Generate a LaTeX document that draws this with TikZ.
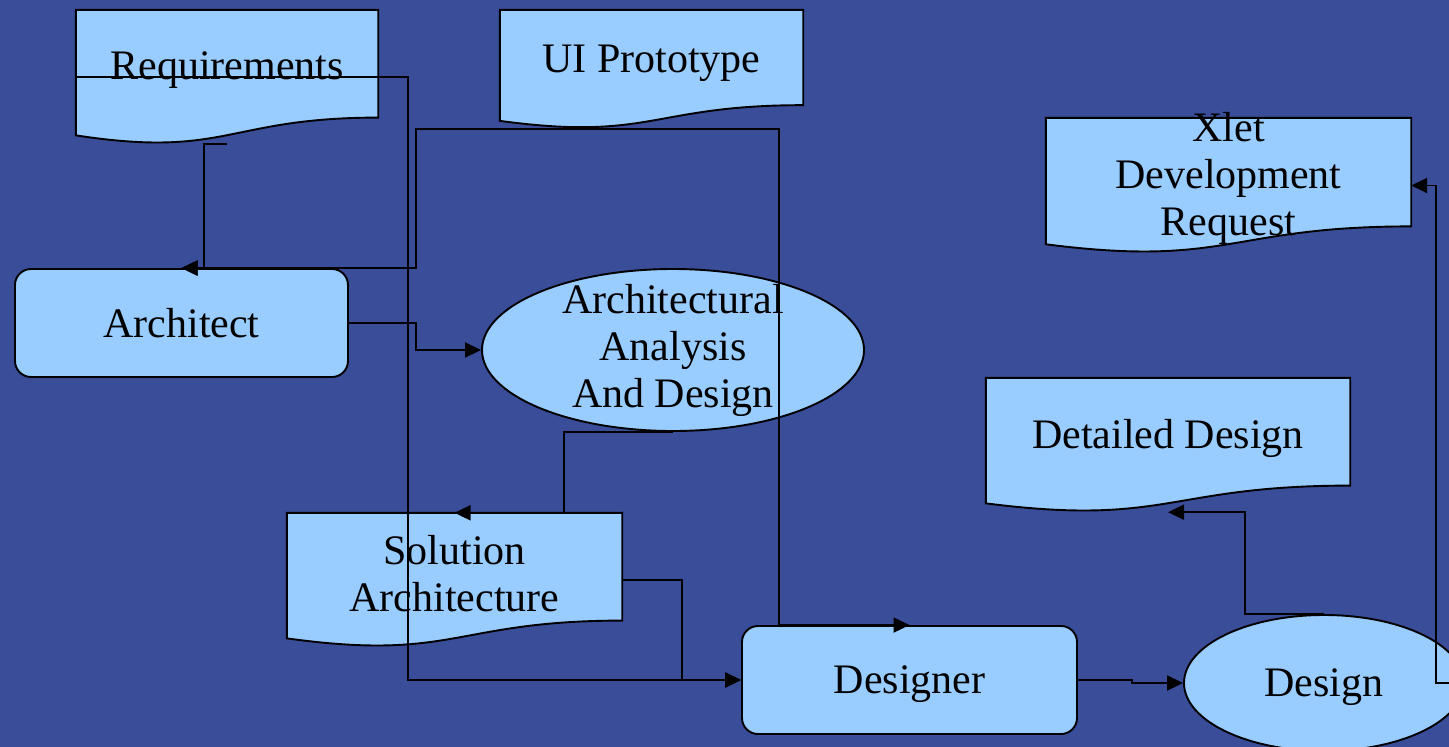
\documentclass[tikz,border=0pt]{standalone}
\usepackage{fontspec}
\setmainfont{Liberation Serif}
\usepackage{xcolor}
\usetikzlibrary{calc,positioning,arrows.meta,shapes.geometric}
\definecolor{slideblue}{RGB}{57,77,153}
\definecolor{boxblue}{RGB}{153,204,255}
\newcommand{\slidefont}{\fontsize{42}{47}\selectfont}
\tikzset{
  line/.style={-{Triangle[length=16pt,width=15pt]}, line width=1.9pt},
  box/.style={draw, line width=1.9pt, fill=boxblue, align=center, font=\slidefont},
  rolebox/.style={box, rounded corners=16pt, minimum width=333pt, minimum height=108pt, text depth=0pt},
  taskbox/.style={box, ellipse, inner xsep=0pt, inner ysep=-12pt},
  docbox/.style={inner sep=0pt},
  docline/.style={draw=black, fill=boxblue, line width=1.9pt},
  doctext/.style={align=center, font=\slidefont, inner sep=0pt}
}
% document shape with wavy bottom, drawn under its text
\newcommand{\docshape}[2]{%
  \filldraw[docline] (#1.north west) -- (#1.north east)
    -- ($(#1.north east)!0.802!(#1.south east)$)
    .. controls ($(#1.north)!0.802!(#1.south)$) and ($(#1.north)!1.1075!(#1.south)$)
    .. ($(#1.north west)!0.934!(#1.south west)$) -- cycle;
  \node[doctext] (#1-text) at ($(#1.north)!0.45!(#1.south)$) {#2};}

\begin{document}
\begin{tikzpicture}[x=1pt, y=-1pt]
  \clip (0,0) rectangle (1449,747);
  \fill[slideblue] (0,0) rectangle (1449,747);

  % documents
  \node[docbox, minimum width=302pt, minimum height=134pt] (req) at (227,77) {};
  \docshape{req}{Requirements}
  \node[docbox, minimum width=303pt, minimum height=118.5pt] (ui) at (651.5,69.25) {};
  \docshape{ui}{UI Prototype}
  \node[docbox, minimum width=365pt, minimum height=135pt] (xlet) at (1228.5,185.5) {};
  \docshape{xlet}{Xlet\\Development\\Request}
  \node[docbox, minimum width=364pt, minimum height=134pt] (detail) at (1168,445) {};
  \docshape{detail}{Detailed Design}
  \node[docbox, minimum width=335pt, minimum height=134pt] (solution) at (454.5,580) {};
  \docshape{solution}{Solution\\Architecture}

  % roles and activities
  \node[rolebox] (architect) at (181.5,323) {Architect};
  \node[rolebox, minimum width=335pt] (designer) at (909.5,680) {Designer};
  \node[taskbox, minimum width=382pt, minimum height=162pt] (analysis) at (673,350) {Architectural\\Analysis\\And Design};
  \node[taskbox, minimum width=280pt, minimum height=136pt, text depth=0pt] (design) at (1324,683) {Design};

  % orthogonal wiring
  \draw[line] (req.south) -- ++(-23,0) |- (architect.north);
  \draw[line] (req.west) -- ++(332,0) |- (designer.west);
  \draw[line] (ui.south) -- ++(-235.5,0) |- (architect.north);
  \draw[line] (ui.south) -| ($(designer.north west)+(38,0)$) -- (designer.north);
  \draw[line] (architect.east) -- ++(67,0) |- (analysis.west);
  \draw[line] (analysis.south) -- ++(-109,0) |- (solution.north);
  \draw[line] (solution.east) -- ++(60,0) |- (designer.west);
  \draw[line] (designer.east) -- ++(54,0) |- (design.west);
  \draw[line] (design.north) -- ++(-79,0) |- (detail.south);
  \draw[line] (design.east) -- ++(-29,0) |- (xlet.east);
\end{tikzpicture}
\end{document}
